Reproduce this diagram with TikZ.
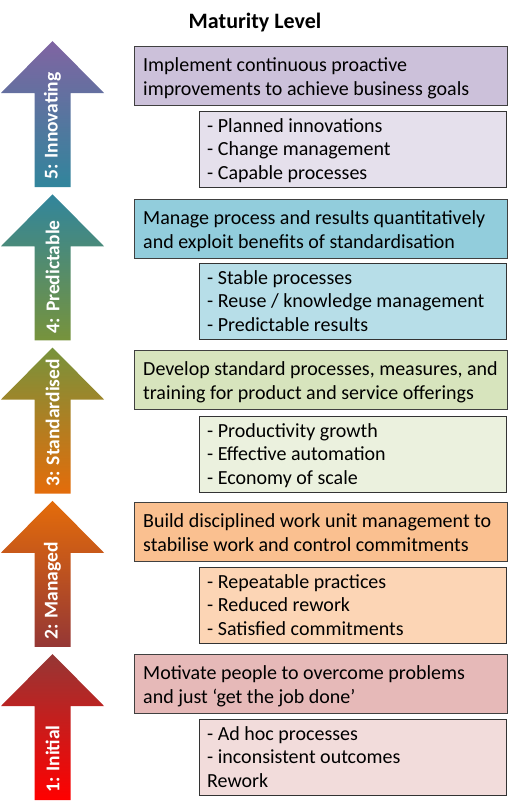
\documentclass[tikz,border=0pt]{standalone}
\usepackage{fontspec}
\setmainfont{Carlito}
\definecolor{apurple}{HTML}{8064A2}
\definecolor{ateal}{HTML}{31859C}
\definecolor{aolive}{HTML}{77933C}
\definecolor{aorange}{HTML}{E46C0A}
\definecolor{abrown}{HTML}{953735}
\definecolor{ared}{HTML}{FF0000}
\definecolor{mfive}{HTML}{CCC1DA}\definecolor{sfive}{HTML}{E5E0EC}
\definecolor{mfour}{HTML}{92CDDC}\definecolor{sfour}{HTML}{B7DEE8}
\definecolor{mthree}{HTML}{D7E4BD}\definecolor{sthree}{HTML}{EBF1DE}
\definecolor{mtwo}{HTML}{FAC090}\definecolor{stwo}{HTML}{FCD5B5}
\definecolor{mone}{HTML}{E6B9B8}\definecolor{sone}{HTML}{F2DCDB}
\tikzset{
  mainbox/.style={draw=black!75, line width=1.1pt, minimum width=373pt, minimum height=59pt, anchor=north west, inner sep=0pt},
  subbox/.style={draw=black!80, line width=1.1pt, minimum width=307pt, minimum height=76pt, anchor=north west, inner sep=0pt},
  boxtext/.style={anchor=base west, inner sep=0pt},
  arrowlabel/.style={rotate=90, anchor=west, inner sep=0pt, text=white, font=\fontsize{19.5}{20}\selectfont\bfseries},
  titletext/.style={anchor=base, inner sep=0pt, font=\fontsize{22}{26}\selectfont\bfseries},
}
\newcommand{\mainlines}[1]{\begin{minipage}[t]{365pt}\fontsize{20}{24}\selectfont #1\end{minipage}}
\newcommand{\sublines}[1]{\begin{minipage}[t]{295pt}\fontsize{20}{23.5}\selectfont #1\end{minipage}}
\newcommand{\mArrow}[5]{%
  \path[top color=#2, bottom color=#3] (52.5,#1) -- (104,#1+52) -- (70.5,#1+52) -- (70.5,#1+146) -- (34.5,#1+146) -- (34.5,#1+52) -- (1,#1+52) -- cycle;
  \node[arrowlabel] (#5) at (52.5,#1+139) {#4};}
\begin{document}
\begin{tikzpicture}[x=1pt,y=-1pt]
\useasboundingbox (0,0) rectangle (513,804);
\node[titletext] (title) at (255,28) {Maturity Level};

% arrows
\mArrow{41}{apurple}{ateal}{5: Innovating}{a5}
\mArrow{194.25}{ateal}{aolive}{4: Predictable}{a4}
\mArrow{347.5}{aolive}{aorange}{3: Standardised}{a3}
\mArrow{500.75}{aorange}{abrown}{2: Managed}{a2}
\mArrow{654}{abrown}{ared}{1: Initial}{a1}

% level 5
\node[mainbox, fill=mfive] (m5) at (134,46) {};
\node[subbox, fill=sfive] (s5) at (199,111) {};
\node[boxtext] (t5) at ([shift={(9,25)}]m5.north west) {\mainlines{Implement continuous proactive\\improvements to achieve business goals}};
\node[boxtext] (u5) at ([shift={(8,21)}]s5.north west) {\sublines{- Planned innovations\\- Change management\\- Capable processes}};

% level 4
\node[mainbox, fill=mfour] (m4) at (134,199) {};
\node[subbox, fill=sfour] (s4) at (199,263) {};
\node[boxtext] (t4) at ([shift={(9,25)}]m4.north west) {\mainlines{Manage process and results quantitatively\\and exploit benefits of standardisation}};
\node[boxtext] (u4) at ([shift={(8,21)}]s4.north west) {\sublines{- Stable processes\\- Reuse / knowledge management\\- Predictable results}};

% level 3
\node[mainbox, fill=mthree] (m3) at (134,350) {};
\node[subbox, fill=sthree] (s3) at (199,416) {};
\node[boxtext] (t3) at ([shift={(9,25)}]m3.north west) {\mainlines{Develop standard processes, measures, and\\training for product and service offerings}};
\node[boxtext] (u3) at ([shift={(8,21)}]s3.north west) {\sublines{- Productivity growth\\- Effective automation\\- Economy of scale}};

% level 2
\node[mainbox, fill=mtwo] (m2) at (134,502) {};
\node[subbox, fill=stwo] (s2) at (199,567) {};
\node[boxtext] (t2) at ([shift={(9,25)}]m2.north west) {\mainlines{Build disciplined work unit management to\\stabilise work and control commitments}};
\node[boxtext] (u2) at ([shift={(8,21)}]s2.north west) {\sublines{- Repeatable practices\\- Reduced rework\\- Satisfied commitments}};

% level 1
\node[mainbox, fill=mone] (m1) at (134,654) {};
\node[subbox, fill=sone] (s1) at (199,719) {};
\node[boxtext] (t1) at ([shift={(9,25)}]m1.north west) {\mainlines{Motivate people to overcome problems\\and just ‘get the job done’}};
\node[boxtext] (u1) at ([shift={(8,21)}]s1.north west) {\sublines{- Ad hoc processes\\- inconsistent outcomes\\Rework}};
\end{tikzpicture}
\end{document}
